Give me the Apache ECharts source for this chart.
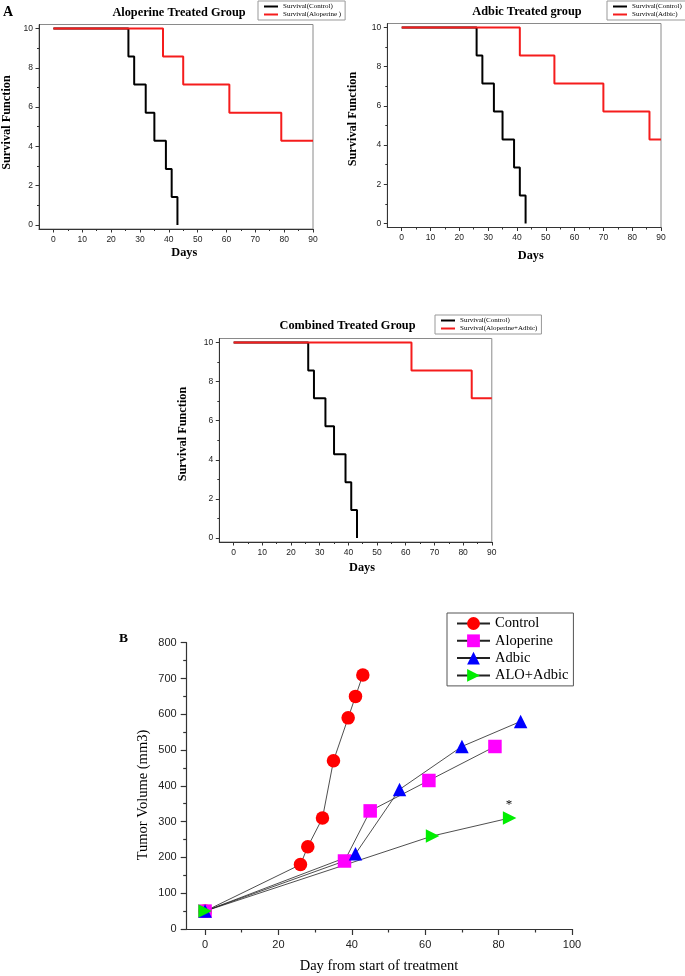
<!DOCTYPE html>
<html><head><meta charset="utf-8">
<script src="https://cdn.jsdelivr.net/npm/echarts@6/dist/echarts.min.js"></script>
<style>html,body{margin:0;padding:0;background:#fff}#c{width:685px;height:976px}</style>
</head><body><div id="c"></div>
<script>
// ---------- DATA ----------
// Kaplan-Meier survival (days, survival function)
const survDaysControl = [0, 26, 28, 32, 35, 39, 41, 43];
const survControl     = [10, 8.571, 7.143, 5.714, 4.286, 2.857, 1.429, 0];
const survDaysAlo     = [0, 38, 45, 61, 79, 90];
const survAlo         = [10, 8.571, 7.143, 5.714, 4.286, 4.286];
const survDaysAdbic   = [0, 41, 53, 70, 86, 90];
const survAdbic       = [10, 8.571, 7.143, 5.714, 4.286, 4.286];
const survDaysCombo   = [0, 62, 83, 90];
const survCombo       = [10, 8.571, 7.143, 7.143];

// Tumour volume (day, mm3)
const tumorDaysControl = [0, 26, 28, 32, 35, 39, 41, 43];
const tumorControl     = [50, 180, 230, 310, 470, 590, 650, 710];
const tumorDaysAlo     = [0, 38, 45, 61, 79];
const tumorAlo         = [50, 190, 330, 415, 510];
const tumorDaysAdbic   = [0, 41, 53, 70, 86];
const tumorAdbic       = [50, 210, 390, 510, 580];
const tumorDaysCombo   = [0, 62, 83];
const tumorCombo       = [50, 260, 310];

// Tick labels
const survTickY   = [0, 2, 4, 6, 8, 10];
const survMinorY  = [1, 3, 5, 7, 9];
const dayTicks    = [0, 10, 20, 30, 40, 50, 60, 70, 80, 90];
const dayMinor    = [5, 15, 25, 35, 45, 55, 65, 75, 85];
const tumorDayTicks = [0, 20, 40, 60, 80, 100];
const tumorDayMinor = [10, 30, 50, 70, 90];

// Names
const legendSurv1 = ['Survival(Control)', 'Survival(Aloperine )'];
const legendSurv2 = ['Survival(Control)', 'Survival(Adbic)'];
const legendSurv3 = ['Survival(Control)', 'Survival(Aloperine+Adbic)'];
const tumorNames  = ['Control', 'Aloperine', 'Adbic', 'ALO+Adbic'];

// ---------- STYLE ----------
const SERIF = '"Liberation Serif", "Times New Roman", serif';
const SANS = '"Liberation Sans", Arial, sans-serif';
const AXC = '#333';
const zip = (xs, ys) => xs.map((x, i) => [x, ys[i]]);

function survX(g) {
  return [
    { gridIndex: g, type: 'value', min: -5, max: 90, position: 'bottom',
      axisLine: { show: true, onZero: false, lineStyle: { color: AXC, width: 1 } },
      axisTick: { show: true, inside: false, length: 3.5, customValues: dayTicks, lineStyle: { color: AXC } },
      axisLabel: { show: true, customValues: dayTicks, fontSize: 8.5, fontFamily: SANS, color: '#222', margin: 6 },
      splitLine: { show: false } },
    { gridIndex: g, type: 'value', min: -5, max: 90, position: 'bottom',
      axisLine: { show: false, onZero: false },
      axisTick: { show: true, inside: false, length: 2, customValues: dayMinor, lineStyle: { color: AXC } },
      axisLabel: { show: false }, splitLine: { show: false } }
  ];
}
function survY(g) {
  return [
    { gridIndex: g, type: 'value', min: -0.2, max: 10.2, position: 'left',
      axisLine: { show: true, onZero: false, lineStyle: { color: AXC, width: 1 } },
      axisTick: { show: true, inside: false, length: 3.5, customValues: survTickY, lineStyle: { color: AXC } },
      axisLabel: { show: true, customValues: survTickY, fontSize: 8.5, fontFamily: SANS, color: '#222', margin: 6 },
      splitLine: { show: false } },
    { gridIndex: g, type: 'value', min: -0.2, max: 10.2, position: 'left',
      axisLine: { show: false, onZero: false },
      axisTick: { show: true, inside: false, length: 2, customValues: survMinorY, lineStyle: { color: AXC } },
      axisLabel: { show: false }, splitLine: { show: false } }
  ];
}
function survLine(name, xs, ys, color, axisIdx) {
  return { type: 'line', name, data: zip(xs, ys), xAxisIndex: axisIdx, yAxisIndex: axisIdx,
    step: 'end', symbol: 'none', lineStyle: { color, width: 2 }, itemStyle: { color } };
}
function survLegend(left, top, data) {
  return { left, top, orient: 'vertical', icon: 'rect', itemWidth: 14, itemHeight: 2, itemGap: 1,
    padding: [2, 4, 2, 6], borderColor: '#999', borderWidth: 1, backgroundColor: '#fff',
    textStyle: { fontSize: 7, fontFamily: SERIF, color: '#000' }, data, selectedMode: false };
}
function tumorLine(name, xs, ys, symbol, color, rot) {
  return { type: 'line', name, data: zip(xs, ys), xAxisIndex: 6, yAxisIndex: 6,
    symbol, symbolSize: 13.5, symbolRotate: rot || 0, showSymbol: true,
    lineStyle: { color: '#222', width: 0.8 }, itemStyle: { color, borderWidth: 0 } };
}
function txt(text, x, y, size, weight, family, rot) {
  return { type: 'text', x, y, rotation: rot || 0, silent: true,
    style: { text, fontSize: size, fontWeight: weight, fontFamily: family, fill: '#000',
      align: 'center', verticalAlign: 'middle' } };
}

const chart = echarts.init(document.getElementById('c'), null, { renderer: 'canvas' });
const gridBase = { show: true, borderColor: '#8a8a8a', borderWidth: 1, backgroundColor: 'transparent', outerBoundsMode: 'none', containLabel: false };

chart.setOption({
  animation: false,
  backgroundColor: '#fff',
  grid: [
    Object.assign({ left: 39, top: 24.5, width: 274, height: 204.5 }, gridBase),
    Object.assign({ left: 387.3, top: 23.5, width: 273.7, height: 204 }, gridBase),
    Object.assign({ left: 219.3, top: 338.5, width: 272.5, height: 203.5 }, gridBase),
    { left: 186.7, top: 642.7, width: 385.3, height: 286.3, show: false, outerBoundsMode: 'none', containLabel: false }
  ],
  xAxis: [
    ...survX(0), ...survX(1), ...survX(2),
    { gridIndex: 3, type: 'value', min: -5, max: 100, position: 'bottom',
      axisLine: { show: true, onZero: false, lineStyle: { color: AXC, width: 1.2 } },
      axisTick: { show: true, inside: false, length: 6, customValues: tumorDayTicks, lineStyle: { color: AXC, width: 1.2 } },
      axisLabel: { show: true, customValues: tumorDayTicks, fontSize: 11, fontFamily: SANS, color: '#222', margin: 10 },
      splitLine: { show: false } },
    { gridIndex: 3, type: 'value', min: -5, max: 100, position: 'bottom',
      axisLine: { show: false, onZero: false },
      axisTick: { show: true, inside: false, length: 3.5, customValues: tumorDayMinor, lineStyle: { color: AXC, width: 1.2 } },
      axisLabel: { show: false }, splitLine: { show: false } }
  ],
  yAxis: [
    ...survY(0), ...survY(1), ...survY(2),
    { gridIndex: 3, type: 'value', min: 0, max: 800, interval: 100, position: 'left',
      axisLine: { show: true, onZero: false, lineStyle: { color: AXC, width: 1.2 } },
      axisTick: { show: true, inside: false, length: 6, lineStyle: { color: AXC, width: 1.2 } },
      minorTick: { show: true, splitNumber: 2, length: 3.5, lineStyle: { color: AXC, width: 1.2 } },
      axisLabel: { show: true, fontSize: 11, fontFamily: SANS, color: '#222', margin: 10 },
      splitLine: { show: false }, minorSplitLine: { show: false } }
  ],
  legend: [
    survLegend(258, 1, legendSurv1),
    survLegend(607, 1, legendSurv2),
    survLegend(435, 315, legendSurv3),
    { left: 447, top: 613, orient: 'vertical', itemWidth: 33, itemHeight: 16, itemGap: 2.3,
      padding: [3, 5, 3, 9], borderColor: '#555', borderWidth: 1, selectedMode: false,
      textStyle: { fontSize: 14.5, fontFamily: SERIF, color: '#000' }, data: tumorNames }
  ],
  series: [
    survLine(legendSurv1[0], survDaysControl, survControl, '#000', 0),
    survLine(legendSurv1[1], survDaysAlo, survAlo, '#f51c1c', 0),
    survLine(legendSurv2[0], survDaysControl, survControl, '#000', 2),
    survLine(legendSurv2[1], survDaysAdbic, survAdbic, '#f51c1c', 2),
    survLine(legendSurv3[0], survDaysControl, survControl, '#000', 4),
    survLine(legendSurv3[1], survDaysCombo, survCombo, '#f51c1c', 4),
    tumorLine(tumorNames[0], tumorDaysControl, tumorControl, 'circle', '#ff0000'),
    tumorLine(tumorNames[1], tumorDaysAlo, tumorAlo, 'rect', '#ff00ff'),
    tumorLine(tumorNames[2], tumorDaysAdbic, tumorAdbic, 'triangle', '#0000ff'),
    tumorLine(tumorNames[3], tumorDaysCombo, tumorCombo, 'triangle', '#00ee00', -90)
  ],
  graphic: [
    { type: 'text', left: 3, top: 5, silent: true, style: { text: 'A', fontSize: 14, fontWeight: 'bold', fontFamily: SERIF, fill: '#000' } },
    txt('Aloperine Treated Group', 179, 13, 12.3, 'bold', SERIF),
    txt('Adbic Treated group', 527, 12, 12.3, 'bold', SERIF),
    txt('Combined Treated Group', 347.5, 325.5, 12.3, 'bold', SERIF),
    txt('Survival Function', 7, 122.5, 12.3, 'bold', SERIF, Math.PI / 2),
    txt('Survival Function', 353.3, 119, 12.3, 'bold', SERIF, Math.PI / 2),
    txt('Survival Function', 183.3, 434, 12.3, 'bold', SERIF, Math.PI / 2),
    txt('Days', 184.3, 253, 12.3, 'bold', SERIF),
    txt('Days', 530.8, 256, 12.3, 'bold', SERIF),
    txt('Days', 362, 567.5, 12.3, 'bold', SERIF),
    { type: 'text', left: 119, top: 632, silent: true, style: { text: 'B', fontSize: 13.5, fontWeight: 'bold', fontFamily: SERIF, fill: '#000' } },
    txt('Tumor Volume (mm3)', 143, 795, 14.5, 'normal', SERIF, Math.PI / 2),
    txt('Day from start of treatment', 379, 966.5, 14.5, 'normal', SERIF),
    txt('*', 509, 805, 13, 'normal', SERIF)
  ]
});
</script></body></html>
